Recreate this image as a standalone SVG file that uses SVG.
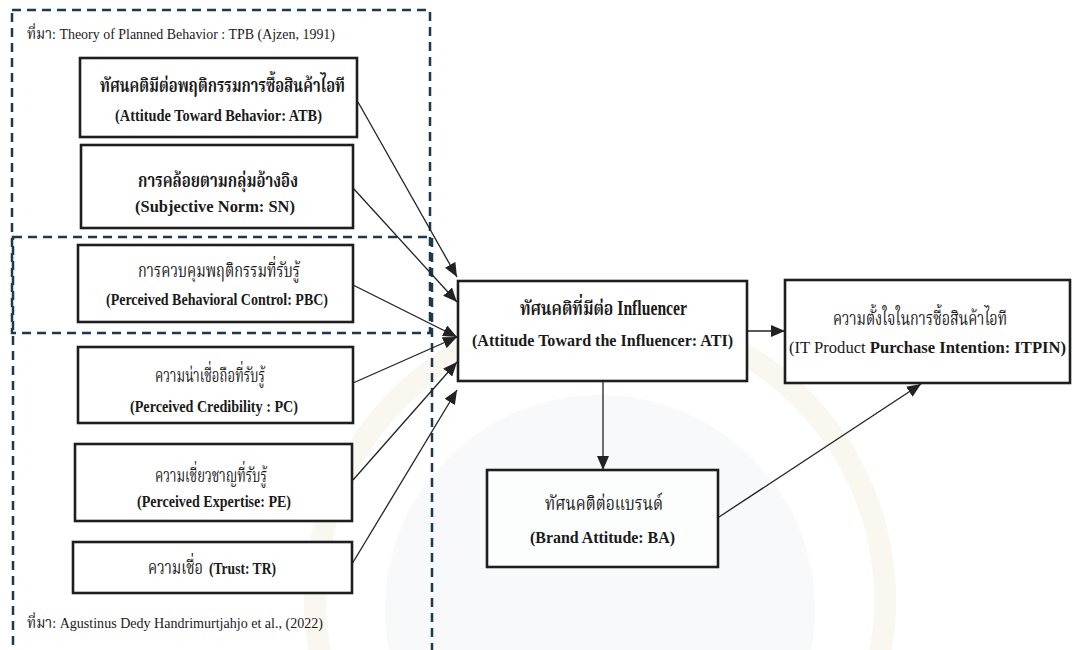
<svg xmlns="http://www.w3.org/2000/svg" width="1073" height="650" viewBox="0 0 1073 650">
<style>
.bg{fill:#ffffff}
.frame{fill:none;stroke:#1b3a4f;stroke-width:2.5;stroke-dasharray:9 6}
.box{fill:#ffffff;stroke:#1e1e1e;stroke-width:2.6}
.boxt{fill:#ffffff;fill-opacity:0.6;stroke:#1e1e1e;stroke-width:2.6}
.edge{fill:none;stroke:#222222;stroke-width:1.3}
text{fill:#1a1a1a}
.en{font-family:'Liberation Serif','Times New Roman',Times,serif;font-size:16px;font-weight:bold}
.th{font-family:'Liberation Serif','Norasi','Kinnari','Laksaman','Noto Serif Thai','Noto Sans Thai',serif;font-size:20px}
.thb{font-family:'Liberation Serif','Norasi','Kinnari','Laksaman','Noto Serif Thai','Noto Sans Thai',serif;font-size:20px;font-weight:bold}
.src{font-family:'Liberation Serif','Norasi','Kinnari','Laksaman','Noto Serif Thai','Noto Sans Thai',serif;font-size:15px}
</style>
<defs>
<marker id="ah" markerUnits="userSpaceOnUse" markerWidth="15" markerHeight="12" refX="14" refY="6" orient="auto">
<path d="M0,0 L14,6 L0,12 z" fill="#222222"/>
</marker>
</defs>
<rect class="bg" x="0" y="0" width="1073" height="650"/>
<g id="watermark" opacity="0.22">
<circle cx="600" cy="610" r="215" fill="#dfe6ef"/>
<circle cx="600" cy="600" r="285" fill="none" stroke="#eadcbc" stroke-width="22"/>
</g>
<g id="frames">
<rect class="frame" x="12" y="10" width="418" height="323"/>
<rect class="frame" x="13" y="237" width="419" height="430"/>
</g>
<g id="connectors">
<path class="edge" d="M358,102 L457,277" marker-end="url(#ah)"/>
<path class="edge" d="M353,188 L457,302" marker-end="url(#ah)"/>
<path class="edge" d="M353,285 L457,337" marker-end="url(#ah)"/>
<path class="edge" d="M353,383 L457,337" marker-end="url(#ah)"/>
<path class="edge" d="M353,480 L457,362" marker-end="url(#ah)"/>
<path class="edge" d="M352,564 L457,390" marker-end="url(#ah)"/>
<path class="edge" d="M747,331 L785,331" marker-end="url(#ah)"/>
<path class="edge" d="M603,382 L603,470" marker-end="url(#ah)"/>
<path class="edge" d="M719,517 L921,384" marker-end="url(#ah)"/>
</g>
<g id="src-tpb">
<text class="src" x="27" y="39" textLength="308" lengthAdjust="spacingAndGlyphs">ที่มา: Theory of Planned Behavior : TPB (Ajzen, 1991)</text>
</g>
<g id="src-adh">
<text class="src" x="27" y="628" textLength="296" lengthAdjust="spacingAndGlyphs">ที่มา: Agustinus Dedy Handrimurtjahjo et al., (2022)</text>
</g>
<g id="node-atb">
<rect class="box" x="80" y="58" width="277" height="79"/>
<text class="thb" x="100" y="92" textLength="245" lengthAdjust="spacingAndGlyphs">ทัศนคติมีต่อพฤติกรรมการซื้อสินค้าไอที</text>
<text class="en" x="115" y="121" textLength="207" lengthAdjust="spacingAndGlyphs">(Attitude Toward Behavior: ATB)</text>
</g>
<g id="node-sn">
<rect class="box" x="81" y="145" width="272" height="83"/>
<text class="thb" x="138" y="187" textLength="160" lengthAdjust="spacingAndGlyphs">การคล้อยตามกลุ่มอ้างอิง</text>
<text class="en" x="135" y="212" textLength="160" lengthAdjust="spacingAndGlyphs">(Subjective Norm: SN)</text>
</g>
<g id="node-pbc">
<rect class="box" x="78" y="245" width="275" height="77"/>
<text class="th" x="138" y="277" textLength="162" lengthAdjust="spacingAndGlyphs">การควบคุมพฤติกรรมที่รับรู้</text>
<text class="en" x="106" y="305" textLength="222" lengthAdjust="spacingAndGlyphs">(Perceived Behavioral Control: PBC)</text>
</g>
<g id="node-pc">
<rect class="box" x="78" y="347" width="275" height="76"/>
<text class="th" x="155" y="382" textLength="110" lengthAdjust="spacingAndGlyphs">ความน่าเชื่อถือที่รับรู้</text>
<text class="en" x="130" y="412" textLength="168" lengthAdjust="spacingAndGlyphs">(Perceived Credibility : PC)</text>
</g>
<g id="node-pe">
<rect class="box" x="75" y="444" width="277" height="77"/>
<text class="th" x="155" y="482" textLength="112" lengthAdjust="spacingAndGlyphs">ความเชี่ยวชาญที่รับรู้</text>
<text class="en" x="137" y="507" textLength="154" lengthAdjust="spacingAndGlyphs">(Perceived Expertise: PE)</text>
</g>
<g id="node-tr">
<rect class="box" x="73" y="542" width="279" height="51"/>
<text class="th" x="203" y="574" text-anchor="end" font-size="17" textLength="55" lengthAdjust="spacingAndGlyphs">ความเชื่อ</text>
<text class="en" x="209" y="574" textLength="67" lengthAdjust="spacingAndGlyphs">(Trust: TR)</text>
</g>
<g id="node-ati">
<rect class="box" x="458" y="281" width="289" height="100"/>
<text class="thb" x="520" y="315" textLength="167" lengthAdjust="spacingAndGlyphs">ทัศนคติที่มีต่อ Influencer</text>
<text class="en" x="472" y="346" textLength="261" lengthAdjust="spacingAndGlyphs">(Attitude Toward the Influencer: ATI)</text>
</g>
<g id="node-itpin">
<rect class="box" x="785" y="280" width="285" height="103"/>
<text class="th" x="920" y="325" text-anchor="middle" font-size="17" textLength="174" lengthAdjust="spacingAndGlyphs">ความตั้งใจในการซื้อสินค้าไอที</text>
<text class="en" x="789" y="353" textLength="277" lengthAdjust="spacingAndGlyphs"><tspan font-weight="normal">(IT Product </tspan>Purchase Intention: ITPIN)</text>
</g>
<g id="node-ba">
<rect class="boxt" x="487" y="470" width="231" height="97"/>
<text class="th" x="545" y="510" textLength="118" lengthAdjust="spacingAndGlyphs">ทัศนคติต่อแบรนด์</text>
<text class="en" x="530" y="543" textLength="145" lengthAdjust="spacingAndGlyphs">(Brand Attitude: BA)</text>
</g>
</svg>
